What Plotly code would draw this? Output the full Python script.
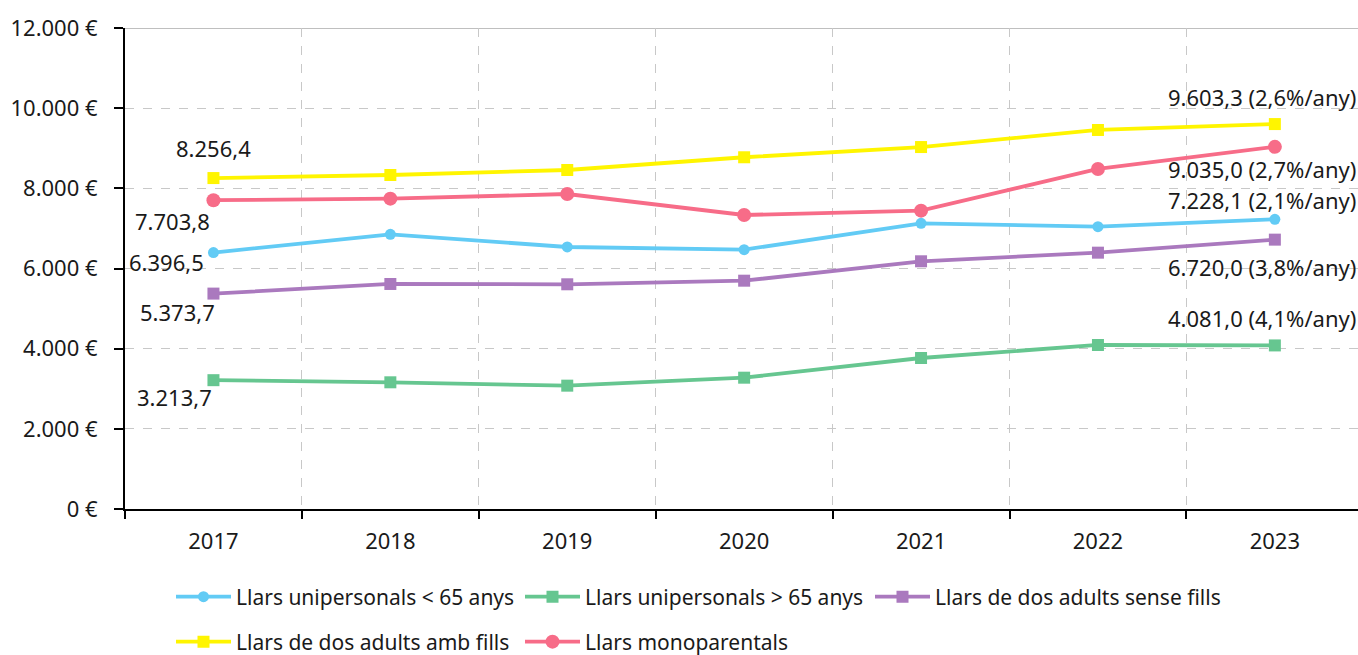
import plotly.graph_objects as go

years = ["2017", "2018", "2019", "2020", "2021", "2022", "2023"]
unip_menys65 = [6396.5, 6853, 6537, 6470, 7128, 7044, 7228.1]
unip_mes65 = [3213.7, 3161, 3077, 3276, 3767, 4092, 4081.0]
dos_sense_fills = [5373.7, 5614, 5606, 5696, 6180, 6395, 6720.0]
dos_amb_fills = [8256.4, 8333, 8458, 8775, 9030, 9456, 9603.3]
monoparentals = [7703.8, 7742, 7859, 7335, 7443, 8483, 9035.0]

series_names = ["Llars unipersonals < 65 anys", "Llars unipersonals > 65 anys",
                "Llars de dos adults sense fills", "Llars de dos adults amb fills",
                "Llars monoparentals"]
growth = ["2,1%", "4,1%", "3,8%", "2,6%", "2,7%"]

y_ticks = [0, 2000, 4000, 6000, 8000, 10000, 12000]
y_ticktext = ["0 €", "2.000 €", "4.000 €", "6.000 €", "8.000 €", "10.000 €", "12.000 €"]

series = [unip_menys65, unip_mes65, dos_sense_fills, dos_amb_fills, monoparentals]
colors = ["#62CBF5", "#66C690", "#AA79BE", "#FFF500", "#F76C88"]
symbols = ["circle", "square", "square", "square", "circle"]
msizes = [11, 12, 12, 12, 14]

# styling: label offsets (pixels) for first / last labels
first_shift = [(-47, -9), (-39, -17), (-36, -18), (0, 30), (-41, -21)]
last_shift = [19, 27, -27, 27, -22]

W, H = 1358, 655
# legend positions (page pixel, start of symbol line) for each series
leg_pos = [(177, 597), (526, 597), (876, 597), (177, 642), (526, 642)]


def fmt(v):
    s = f"{v:,.1f}"
    return s.replace(",", "X").replace(".", ",").replace("X", ".")


fig = go.Figure()
for i, (vals, name) in enumerate(zip(series, series_names)):
    lg = "legend" if i == 0 else f"legend{i+1}"
    fig.add_trace(go.Scatter(
        x=years, y=vals, name=name, mode="lines+markers",
        line=dict(color=colors[i], width=3.8),
        marker=dict(symbol=symbols[i], size=msizes[i], color=colors[i]),
        legend=lg, showlegend=True,
    ))

annotations = []
n = len(years)
for i, vals in enumerate(series):
    dx, dy = first_shift[i]
    annotations.append(dict(x=0, y=vals[0], xref="x", yref="y",
                            text=fmt(vals[0]), showarrow=False,
                            xshift=dx, yshift=dy,
                            font=dict(size=22, color="#1a1a1a")))
    annotations.append(dict(x=n - 1, y=vals[-1], xref="x", yref="y",
                            text=f"{fmt(vals[-1])} ({growth[i]}/any)", showarrow=False,
                            xanchor="right", xshift=83, yshift=last_shift[i],
                            font=dict(size=22, color="#1a1a1a")))

layout_legends = {}
for i, (px, py) in enumerate(leg_pos):
    key = "legend" if i == 0 else f"legend{i+1}"
    layout_legends[key] = dict(
        xref="container", yref="container",
        x=(px - 6) / W, y=1 - py / H, xanchor="left", yanchor="middle",
        orientation="h", bgcolor="rgba(0,0,0,0)", itemwidth=55,
        font=dict(size=21, color="#1a1a1a", family="Noto Sans"),
    )

fig.update_layout(
    width=W, height=H,
    margin=dict(l=125, r=0, t=28, b=146),
    plot_bgcolor="white", paper_bgcolor="white",
    font=dict(family="Noto Sans", size=22, color="#1a1a1a"),
    annotations=annotations,
    shapes=[dict(type="line", xref="paper", yref="y", x0=0, x1=1, y0=12000, y1=12000,
                 line=dict(color="#BFBFBF", width=2), layer="below")],
    **layout_legends,
)
fig.update_xaxes(
    type="category", range=[-0.5, 6.47], tickson="boundaries",
    ticks="outside", ticklen=8, tickwidth=2, tickcolor="black",
    showline=True, linecolor="black", linewidth=2,
    showgrid=True, gridcolor="#C8C8C8", griddash="dash", gridwidth=1,
    ticklabelstandoff=12, tickfont=dict(size=22),
)
fig.update_yaxes(
    range=[0, 12000], tickvals=y_ticks, ticktext=y_ticktext,
    ticks="outside", ticklen=9, tickwidth=2, tickcolor="black",
    showline=True, linecolor="black", linewidth=2,
    showgrid=True, gridcolor="#C8C8C8", griddash="dash", gridwidth=1,
    zeroline=False, ticklabelstandoff=12, tickfont=dict(size=22),
)

fig.write_html(
    "out.html",
    config={"displayModeBar": False},
    post_script="document.body.style.margin='0';document.body.style.overflow='hidden';",
)
